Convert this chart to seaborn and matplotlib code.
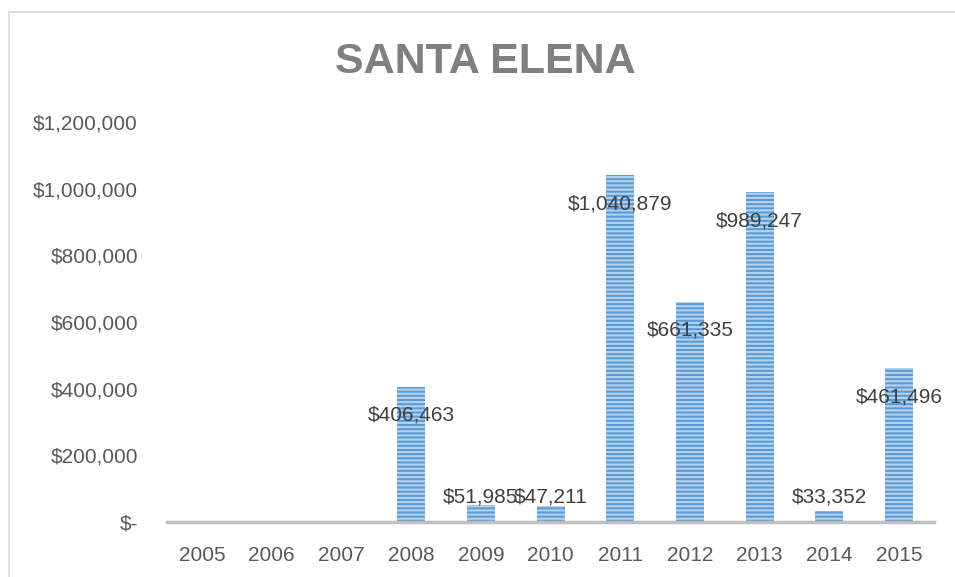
import matplotlib.pyplot as plt
import matplotlib.patches as mpatches
import seaborn as sns
import pandas as pd

years = ['2005', '2006', '2007', '2008', '2009', '2010', '2011', '2012', '2013', '2014', '2015']
amounts = [0, 0, 0, 406463, 51985, 47211, 1040879, 661335, 989247, 33352, 461496]
y_ticks = [0, 200000, 400000, 600000, 800000, 1000000, 1200000]

sns.set_style('white')
plt.rcParams['font.family'] = ['Liberation Sans', 'DejaVu Sans']
plt.rcParams['hatch.linewidth'] = 1.5

df = pd.DataFrame({'year': years, 'amount': amounts})

fig = plt.figure(figsize=(9.55, 5.77), dpi=100)
ax = fig.add_axes([0.175, 0.0953, 0.803, 0.6933])

sns.barplot(data=df, x='year', y='amount', color='#5b9bd5', width=0.4, ax=ax, saturation=1)
for bar in ax.patches:
    bar.set_hatch('----')
    bar.set_edgecolor('#b4d2ee')
    bar.set_linewidth(0)

ax.set_ylim(0, 1200000)
ax.set_xlim(-0.5, 10.5)
ax.set_yticks(y_ticks)
ax.set_yticklabels(['$-'] + ['${:,.0f}'.format(v) for v in y_ticks[1:]])
ax.set_xlabel('')
ax.set_ylabel('')
ax.tick_params(axis='both', labelsize=15, labelcolor='#595959', length=0)
ax.tick_params(axis='y', pad=21)
ax.tick_params(axis='x', pad=17)

for side in ['top', 'right', 'left']:
    ax.spines[side].set_visible(False)
ax.spines['bottom'].set_color('#bfbfbf')
ax.spines['bottom'].set_linewidth(2.5)

# data labels, inside end like the spreadsheet
for i, v in enumerate(amounts):
    if v == 0:
        continue
    ax.text(i, max(v - 86000, 75000), '${:,.0f}'.format(v), ha='center', va='center',
            fontsize=15, color='#404040')

fig.text(0.508, 0.893, 'SANTA ELENA', ha='center', va='center', fontsize=31,
         fontweight='bold', color='#808080')

fig.patches.append(mpatches.Rectangle((0.009, -0.01), 1.0, 0.99, transform=fig.transFigure,
                                      fill=False, edgecolor='#d9d9d9', linewidth=1.2))

fig.savefig('out.png', dpi=100)
